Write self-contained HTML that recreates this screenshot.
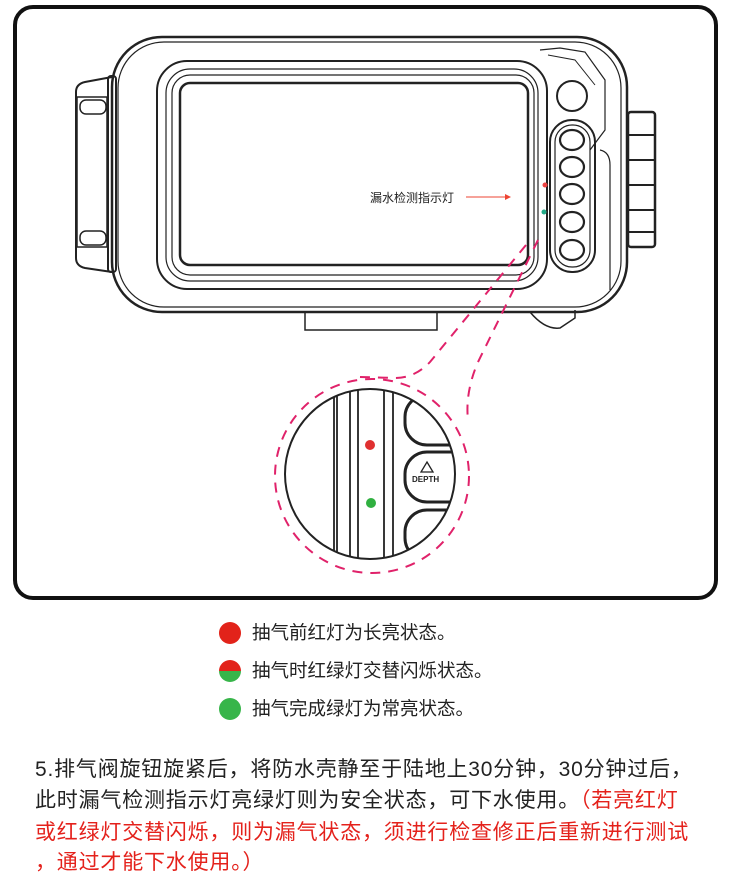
<!DOCTYPE html>
<html><head><meta charset="utf-8"><style>
body{margin:0;width:730px;height:877px;background:#fff;overflow:hidden;position:relative;font-family:"Liberation Sans","Noto Sans CJK SC",sans-serif}
.l{position:absolute;left:252px;font-size:18.5px;color:#222;line-height:24px}
.d{position:absolute;left:219px;width:22px;height:22px;border-radius:50%}
.p{position:absolute;left:35px;font-size:21px;letter-spacing:0.8px;color:#222;line-height:24px;white-space:nowrap}
.r{color:#e4211b}
</style></head><body>
<svg width="730" height="610" style="position:absolute;left:0;top:0" fill="none" stroke="#222">
<rect x="15" y="7" width="701" height="591" rx="18" stroke="#111" stroke-width="4"/>
<path d="M112 77 L85 82 Q76 84 76 92 L76 258 Q76 266 85 268 L112 272" stroke-width="2"/>
<rect x="77" y="97" width="30" height="150" stroke-width="1.5"/>
<rect x="80" y="100" width="26" height="14" rx="6" stroke-width="1.5"/>
<rect x="80" y="231" width="26" height="14" rx="6" stroke-width="1.5"/>
<rect x="108" y="76" width="8" height="196" rx="3" stroke-width="2"/>
<rect x="112" y="37" width="515" height="275" rx="50" stroke-width="2.5"/>
<rect x="118" y="42" width="503" height="265" rx="46" stroke-width="1.2"/>
<rect x="157" y="61" width="390" height="228" rx="30" stroke-width="2"/>
<rect x="166" y="69" width="372" height="212" rx="24" stroke-width="1.2"/>
<rect x="172" y="75" width="362" height="200" rx="18" stroke-width="1.2"/>
<rect x="180" y="83" width="348" height="182" rx="10" stroke-width="2.5"/>
<path d="M540 50 L560 48 L585 52 L605 80 L605 130 L590 150" stroke-width="1.2"/>
<path d="M548 55 L575 60 L595 85" stroke-width="1"/>
<circle cx="572" cy="96" r="15" stroke-width="2"/>
<rect x="550" y="120" width="45" height="152" rx="22" stroke-width="2"/>
<rect x="555" y="125" width="35" height="142" rx="17" stroke-width="1.2"/>
<g stroke-width="2.2"><ellipse cx="572" cy="140" rx="12" ry="10"/><ellipse cx="572" cy="167" rx="12" ry="10"/><ellipse cx="572" cy="194" rx="12" ry="10"/><ellipse cx="572" cy="222" rx="12" ry="10"/><ellipse cx="572" cy="250" rx="12" ry="10"/></g>
<path d="M600 150 Q610 152 610 165 L610 290" stroke-width="1.2"/>
<rect x="628" y="112" width="27" height="135" rx="3" stroke-width="2.5"/>
<g stroke-width="2"><line x1="628" y1="135" x2="655" y2="135"/><line x1="628" y1="160" x2="655" y2="160"/><line x1="628" y1="185" x2="655" y2="185"/><line x1="628" y1="210" x2="655" y2="210"/><line x1="628" y1="232" x2="655" y2="232"/></g>
<path d="M305 312 L305 330 L437 330 L437 312" stroke-width="1.5"/>
<path d="M530 312 Q545 330 560 328 L575 318 L575 310" stroke-width="1.5"/>
<text x="370" y="202" font-size="12" fill="#222" stroke="none" font-family="Liberation Sans,Noto Sans CJK SC,sans-serif">漏水检测指示灯</text>
<line x1="466" y1="197" x2="505" y2="197" stroke="#e43" stroke-width="1"/>
<path d="M505 194 L511 197 L505 200Z" fill="#e43" stroke="none"/>
<circle cx="545" cy="185" r="2.5" fill="#e44" stroke="none"/>
<circle cx="544" cy="212" r="2.5" fill="#2a8" stroke="none"/>
<g stroke="#e0226a" stroke-width="2" stroke-dasharray="10 8">
<path d="M526 245 L430 362 Q415 378 395 378 L360 377"/>
<path d="M538 240 L478 362 Q465 392 468 420"/>
<circle cx="372" cy="476" r="97"/>
</g>
<clipPath id="c"><circle cx="370" cy="474" r="85"/></clipPath>
<circle cx="370" cy="474" r="85" fill="#fff" stroke-width="2"/>
<g clip-path="url(#c)" stroke-width="1.8">
<line x1="334" y1="380" x2="334" y2="570"/><line x1="337" y1="380" x2="337" y2="570"/>
<line x1="350" y1="380" x2="350" y2="570"/><line x1="358" y1="380" x2="358" y2="570"/>
<line x1="384" y1="380" x2="384" y2="570"/><line x1="393" y1="380" x2="393" y2="570"/>
<rect x="405" y="395" width="80" height="50" rx="22" stroke-width="3"/>
<rect x="405" y="452" width="80" height="50" rx="22" stroke-width="3"/>
<rect x="405" y="510" width="80" height="50" rx="22" stroke-width="3"/>
<path d="M427 462 L433 472 L421 472Z" stroke-width="1.3"/>
<text x="412" y="482" font-size="8" font-weight="bold" fill="#222" stroke="none">DEPTH</text>
</g>
<circle cx="370" cy="445" r="5" fill="#e03030" stroke="none"/>
<circle cx="371" cy="503" r="5" fill="#30b040" stroke="none"/>
</svg>
<div class="d" style="top:622px;background:#e2231a"></div>
<div class="d" style="top:660px;background:linear-gradient(#e2231a 50%,#37b54a 50%)"></div>
<div class="d" style="top:698px;background:#37b54a"></div>
<div class="l" style="top:621px">抽气前红灯为长亮状态。</div>
<div class="l" style="top:659px">抽气时红绿灯交替闪烁状态。</div>
<div class="l" style="top:697px">抽气完成绿灯为常亮状态。</div>
<div class="p" style="top:758px">5.排气阀旋钮旋紧后，将防水壳静至于陆地上30分钟，30分钟过后，</div>
<div class="p" style="top:789px">此时漏气检测指示灯亮绿灯则为安全状态，可下水使用。<span class="r">（若亮红灯</span></div>
<div class="p r" style="top:821px">或红绿灯交替闪烁，则为漏气状态，须进行检查修正后重新进行测试</div>
<div class="p r" style="top:851px">，通过才能下水使用。）</div>
</body></html>
